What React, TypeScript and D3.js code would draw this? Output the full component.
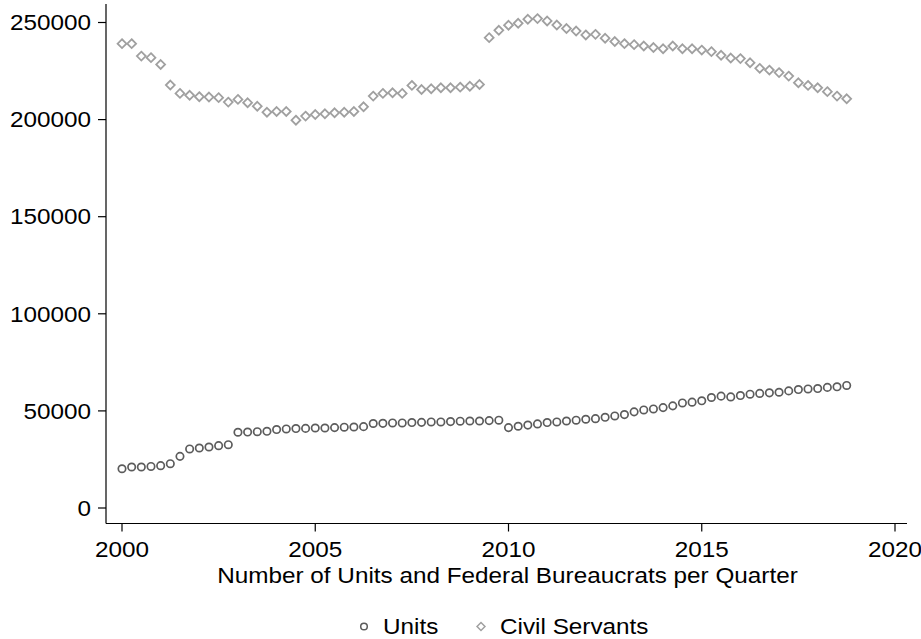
import React from "react";
import * as d3 from "d3";

const quarters: number[] = Array.from({ length: 76 }, (_, i) => 2000 + i / 4);

const units: number[] = [
  20200, 21100, 21100, 21400, 21800, 22800, 26600, 30400, 30900, 31400, 32100, 32600,
  39000, 39100, 39300, 39500, 40400, 40700, 40900, 41000, 41200, 41200, 41400, 41600,
  41700, 41900, 43500, 43600, 43800, 43800, 44000, 44100, 44300, 44300, 44500, 44700,
  44800, 44800, 45000, 45200, 41400, 42100, 42700, 43300, 44000, 44300, 44800, 45200,
  45700, 46000, 46700, 47400, 48100, 49500, 50500, 51000, 51700, 52600, 54100, 54500,
  55200, 56900, 57600, 57200, 57900, 58600, 59000, 59300, 59600, 60300, 61000, 61300,
  61500, 62100, 62400, 63100,
];

const civilServants: number[] = [
  239100, 239100, 232700, 231900, 228400, 217800, 213500, 212500, 211800, 211600, 211300, 209000,
  210400, 208700, 206900, 203800, 204200, 204200, 199700, 201800, 202600, 203000, 203500, 203800,
  204200, 206600, 212100, 213500, 213800, 213500, 217600, 215500, 215900, 216400, 216400, 216700,
  217200, 218100, 242200, 246000, 248600, 249600, 251700, 252000, 250800, 248700, 246900, 245600,
  243600, 243900, 241900, 240200, 239100, 238600, 237900, 237100, 236500, 237900, 236500, 236500,
  235800, 235000, 233100, 231700, 231400, 229300, 226400, 225500, 224200, 222400, 219000, 217600,
  216400, 214400, 212100, 210700,
];

const yTicks: number[] = [0, 50000, 100000, 150000, 200000, 250000];
const xTicks: number[] = [2000, 2005, 2010, 2015, 2020];
const xTitle = "Number of Units and Federal Bureaucrats per Quarter";
const legendLabels: string[] = ["Units", "Civil Servants"];

const W = 921;
const H = 639;
const FONT = "'Liberation Sans', Arial, Helvetica, sans-serif";
const UNIT_COLOR = "#5c5c5c";
const CS_COLOR = "#a0a0a0";
const FS = 21.5;
const SX = 1.13;

function T(props: { x: number; y: number; anchor?: string; dy?: string; children: React.ReactNode }) {
  return (
    <g transform={`translate(${props.x},${props.y}) scale(${SX},1)`}>
      <text x={0} y={0} dy={props.dy} textAnchor={props.anchor || "start"} fontSize={FS} fill="#000">
        {props.children}
      </text>
    </g>
  );
}

export default function App() {
  const x = d3.scaleLinear().domain([2000, 2020]).range([122, 895]);
  const y = d3.scaleLinear().domain([0, 250000]).range([508, 22.5]);
  const axisX = 106;
  const axisY = 523.5;
  const diamond = d3.symbol().type(d3.symbolDiamond2).size(50);

  return (
    <div style={{ position: "fixed", left: 0, top: 0, width: W, height: H, background: "#fff" }}>
      <svg width={W} height={H} style={{ display: "block", fontFamily: FONT }}>
        <rect width={W} height={H} fill="#fff" />
        {/* Y axis */}
        <line x1={axisX} x2={axisX} y1={4} y2={axisY} stroke="#000" strokeWidth={1.2} />
        {yTicks.map((t) => (
          <g key={"y" + t}>
            <line x1={axisX - 8} x2={axisX} y1={y(t)} y2={y(t)} stroke="#000" strokeWidth={1.2} />
            <T x={91} y={y(t)} dy="0.36em" anchor="end">
              {t}
            </T>
          </g>
        ))}
        {/* X axis */}
        <line x1={axisX} x2={907} y1={axisY} y2={axisY} stroke="#000" strokeWidth={1.2} />
        {xTicks.map((t) => (
          <g key={"x" + t}>
            <line x1={x(t)} x2={x(t)} y1={axisY} y2={axisY + 8} stroke="#000" strokeWidth={1.2} />
            <T x={x(t)} y={557} anchor="middle">
              {t}
            </T>
          </g>
        ))}
        <T x={507.5} y={583} anchor="middle">
          {xTitle}
        </T>
        {/* Civil servants */}
        {quarters.map((q, i) => (
          <path
            key={"cs" + i}
            d={diamond() as string}
            transform={`translate(${x(q)},${y(civilServants[i])})`}
            fill="none"
            stroke={CS_COLOR}
            strokeWidth={1.8}
          />
        ))}
        {/* Units */}
        {quarters.map((q, i) => (
          <circle
            key={"u" + i}
            cx={x(q)}
            cy={y(units[i])}
            r={3.7}
            fill="none"
            stroke={UNIT_COLOR}
            strokeWidth={1.7}
          />
        ))}
        {/* Legend */}
        <circle cx={364} cy={626.5} r={3.3} fill="none" stroke={UNIT_COLOR} strokeWidth={1.5} />
        <T x={383} y={634}>
          {legendLabels[0]}
        </T>
        <path
          d={d3.symbol().type(d3.symbolDiamond2).size(40)() as string}
          transform="translate(481,626.5)"
          fill="none"
          stroke={CS_COLOR}
          strokeWidth={1.5}
        />
        <T x={500} y={634}>
          {legendLabels[1]}
        </T>
      </svg>
    </div>
  );
}
